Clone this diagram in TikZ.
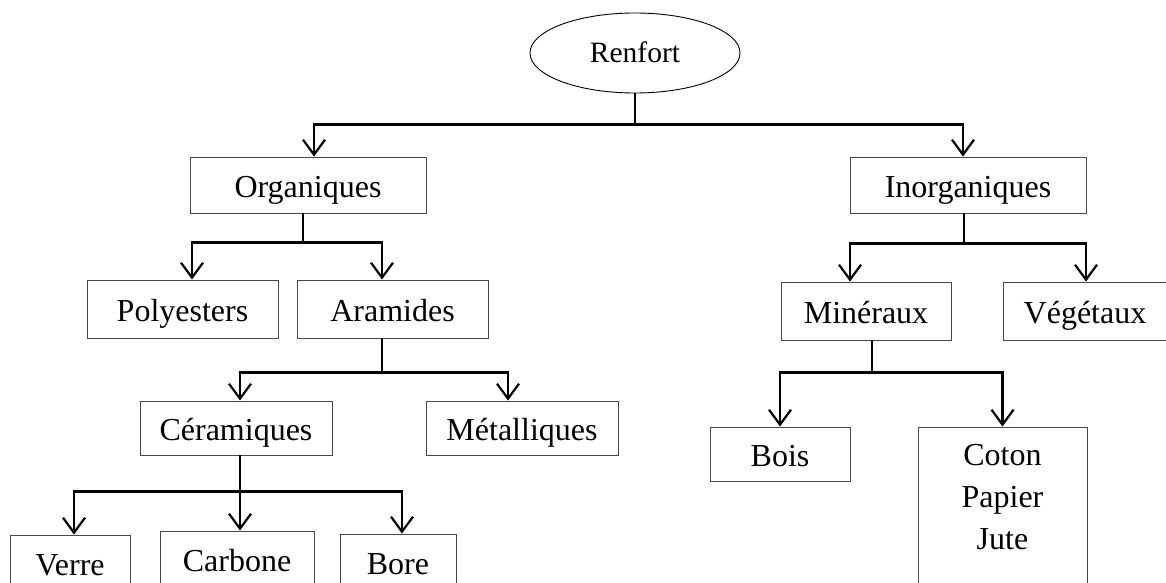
\documentclass[tikz,border=0pt]{standalone}
\usepackage{fontspec}
\setmainfont{Liberation Serif}
\usetikzlibrary{arrows.meta,shapes.geometric}

\tikzset{
  box/.style={draw=black!72, line width=0.9pt, inner sep=0pt,
    text height=24pt, text depth=0pt,
    font=\fontsize{32}{38}\selectfont},
  root/.style={ellipse, draw=black, line width=0.9pt, inner sep=0pt,
    minimum width=210pt, minimum height=80pt,
    text height=20pt, text depth=0pt,
    font=\fontsize{29.5}{35}\selectfont},
  link/.style={draw=black, line width=2.2pt},
  arr/.style={link, -{Straight Barb[length=15pt,width=22pt]}}
}

\begin{document}
\begin{tikzpicture}[x=1pt, y=-1pt]
  \clip (0,0) rectangle (1166,583);
  \fill[white] (0,0) rectangle (1166,583);

  % root
  \node[root] (renfort) at (635,53) {Renfort};

  % first level
  \node[box, minimum width=236pt, minimum height=56pt] (org)   at (308,185) {Organiques};
  \node[box, minimum width=236pt, minimum height=56pt] (inorg) at (968,185) {Inorganiques};

  % organic branch
  \node[box, minimum width=191pt, minimum height=58pt] (poly)  at (182.5,309) {Polyesters};
  \node[box, minimum width=191pt, minimum height=58pt] (aram)  at (392.5,309) {Aramides};
  \node[box, minimum width=192pt, minimum height=54pt] (ceram) at (236,428) {Céramiques};
  \node[box, minimum width=192pt, minimum height=54pt] (metal) at (522,428) {Métalliques};
  \node[box, minimum width=120pt, minimum height=56pt] (verre) at (70,563) {Verre};
  \node[box, minimum width=154pt, minimum height=56pt] (carb)  at (237,559) {Carbone};
  \node[box, minimum width=116pt, minimum height=56pt] (bore)  at (398,562) {Bore};

  % inorganic branch
  \node[box, minimum width=170pt, minimum height=58pt] (miner) at (866,311) {Minéraux};
  \node[box, minimum width=164pt, minimum height=58pt] (veget) at (1085,311) {Végétaux};
  \node[box, minimum width=140pt, minimum height=54pt] (bois)  at (780,454) {Bois};
  \node[box, minimum width=169pt, minimum height=200pt] (coton) at (1002.5,527) {};
  \node[anchor=north, inner sep=0pt, align=center,
        font=\fontsize{32}{42}\selectfont] (cotontxt)
        at ([yshift=-18pt]coton.north) {Coton\\Papier\\Jute};

  % connectors
  \draw[link] (renfort.south) -- ++(0,31) coordinate (rb);
  \draw[arr] (rb) -| ([xshift=6pt]org.north);
  \draw[arr] (rb) -| ([xshift=-5pt]inorg.north);

  \draw[link] ([xshift=-5pt]org.south) -- ++(0,29) coordinate (ob);
  \draw[arr] (ob) -| ([xshift=9.5pt]poly.north);
  \draw[arr] (ob) -| ([xshift=-10.5pt]aram.north);

  \draw[link] ([xshift=-10.5pt]aram.south) -- ++(0,34) coordinate (ab);
  \draw[arr] (ab) -| ([xshift=4pt]ceram.north);
  \draw[arr] (ab) -| ([xshift=-14pt]metal.north);

  \draw[link] ([xshift=4pt]ceram.south) -- ++(0,36) coordinate (cb);
  \draw[arr] (cb) -| ([xshift=4pt]verre.north);
  \draw[arr] (cb) -- ([xshift=3pt]carb.north);
  \draw[arr] (cb) -| ([xshift=4pt]bore.north);

  \draw[link] ([xshift=-4pt]inorg.south) -- ++(0,30) coordinate (ib);
  \draw[arr] (ib) -| ([xshift=-16pt]miner.north);
  \draw[arr] (ib) -| ([xshift=1pt]veget.north);

  \draw[link] ([xshift=6pt]miner.south) -- ++(0,32) coordinate (mb);
  \draw[arr] (mb) -| (bois.north);
  \draw[arr] (mb) -| (coton.north);
\end{tikzpicture}
\end{document}
